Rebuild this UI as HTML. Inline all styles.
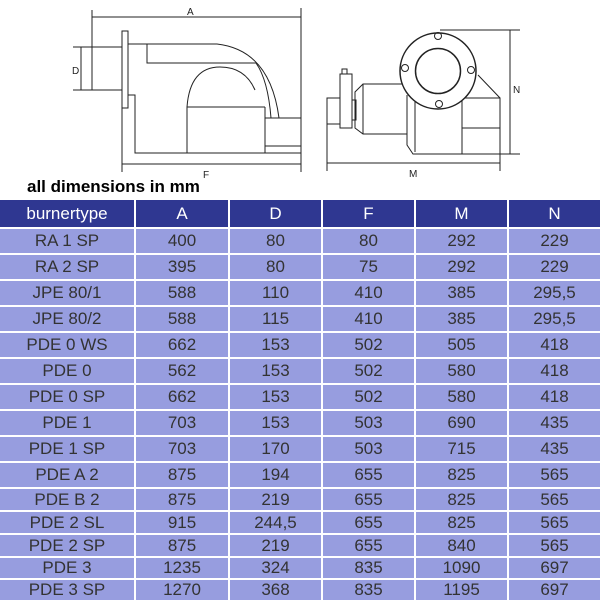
<!DOCTYPE html>
<html><head><meta charset="utf-8"><style>
html,body{margin:0;padding:0;background:#fff;width:600px;height:600px;overflow:hidden;position:relative;font-family:"Liberation Sans",Arial,sans-serif}
svg{position:absolute;left:0;top:0}
.t{position:absolute;left:27px;top:177px;font-weight:bold;font-size:17px;color:#000}
.r{position:absolute;left:0;width:600px;display:flex}
.r div{display:flex;align-items:center;justify-content:center;background:#979ddf;color:#333;font-size:17px;margin-left:2px;width:91px}
.r div:first-child{margin-left:0;width:134px}
.r div:nth-child(2){width:92px}
.h div{background:#2f3791;color:#fff}
</style></head><body>
<svg width="600" height="200" viewBox="0 0 600 200" fill="none" stroke="#222" stroke-width="1">
<g font-family="Liberation Sans,Arial,sans-serif" font-size="10" fill="#222" stroke="none">
<text x="187" y="15">A</text><text x="203" y="178">F</text><text x="72" y="74">D</text>
<text x="409" y="177">M</text><text x="513" y="93">N</text>
</g>
<line x1="92" y1="17" x2="301" y2="17"/>
<line x1="92" y1="10" x2="92" y2="47"/>
<line x1="301" y1="8" x2="301" y2="118"/>
<line x1="122" y1="164" x2="301" y2="164"/>
<line x1="122" y1="108" x2="122" y2="172"/>
<line x1="301" y1="153" x2="301" y2="172"/>
<line x1="81" y1="47" x2="81" y2="90"/>
<line x1="73" y1="47" x2="92" y2="47"/><line x1="73" y1="90" x2="92" y2="90"/>
<rect x="92" y="47" width="30" height="43"/>
<rect x="122" y="31" width="6" height="77"/>
<path d="M128 44 H217 Q270 50 279 118"/>
<path d="M147 44 V63 H256 Q268 80 271 118"/>
<path d="M128 95 H135 V153 H301"/>
<path d="M187 153 V107 Q190 67 220 67 Q245 67 255 90"/>
<line x1="187" y1="107" x2="265" y2="107"/>
<rect x="265" y="118" width="36" height="35"/>
<line x1="265" y1="146" x2="301" y2="146"/>
<line x1="265" y1="107" x2="265" y2="118"/>
<line x1="327" y1="163" x2="500" y2="163"/>
<line x1="327" y1="124" x2="327" y2="171"/>
<line x1="500" y1="154" x2="500" y2="171"/>
<line x1="510" y1="30" x2="510" y2="154"/>
<line x1="440" y1="30" x2="520" y2="30"/>
<line x1="500" y1="154" x2="520" y2="154"/>
<path d="M478 75 L500 98 V154 H413 L407 145 V95"/>
<line x1="415" y1="95" x2="415" y2="152"/>
<rect x="462" y="98" width="38" height="56"/>
<line x1="462" y1="128" x2="500" y2="128"/>
<path d="M407 84 H363 L355 92 V128 L363 134 H407"/>
<line x1="363" y1="84" x2="363" y2="134"/>
<rect x="340" y="74" width="12" height="54"/>
<rect x="342" y="69" width="5" height="5"/>
<rect x="327" y="98" width="13" height="26"/>
<rect x="352" y="100" width="4" height="20"/>
<circle cx="438" cy="71" r="38" fill="#fff" stroke-width="1.5"/>
<circle cx="438" cy="71" r="22.5" stroke-width="1.5"/>
<circle cx="438" cy="36" r="3.5"/><circle cx="405" cy="68" r="3.5"/>
<circle cx="471" cy="70" r="3.5"/><circle cx="439" cy="104" r="3.5"/>
</svg>
<div class="t">all dimensions in mm</div>
<div class="r h" style="top:200px;height:27px"><div>burnertype</div><div>A</div><div>D</div><div>F</div><div>M</div><div>N</div></div>
<div class="r" style="top:229px;height:24px"><div>RA 1 SP</div><div>400</div><div>80</div><div>80</div><div>292</div><div>229</div></div>
<div class="r" style="top:255px;height:24px"><div>RA 2 SP</div><div>395</div><div>80</div><div>75</div><div>292</div><div>229</div></div>
<div class="r" style="top:281px;height:24px"><div>JPE 80/1</div><div>588</div><div>110</div><div>410</div><div>385</div><div>295,5</div></div>
<div class="r" style="top:307px;height:24px"><div>JPE 80/2</div><div>588</div><div>115</div><div>410</div><div>385</div><div>295,5</div></div>
<div class="r" style="top:333px;height:24px"><div>PDE 0 WS</div><div>662</div><div>153</div><div>502</div><div>505</div><div>418</div></div>
<div class="r" style="top:359px;height:24px"><div>PDE 0</div><div>562</div><div>153</div><div>502</div><div>580</div><div>418</div></div>
<div class="r" style="top:385px;height:24px"><div>PDE 0 SP</div><div>662</div><div>153</div><div>502</div><div>580</div><div>418</div></div>
<div class="r" style="top:411px;height:24px"><div>PDE 1</div><div>703</div><div>153</div><div>503</div><div>690</div><div>435</div></div>
<div class="r" style="top:437px;height:24px"><div>PDE 1 SP</div><div>703</div><div>170</div><div>503</div><div>715</div><div>435</div></div>
<div class="r" style="top:463px;height:24px"><div>PDE A 2</div><div>875</div><div>194</div><div>655</div><div>825</div><div>565</div></div>
<div class="r" style="top:489px;height:21px"><div>PDE B 2</div><div>875</div><div>219</div><div>655</div><div>825</div><div>565</div></div>
<div class="r" style="top:512px;height:21px"><div>PDE 2 SL</div><div>915</div><div>244,5</div><div>655</div><div>825</div><div>565</div></div>
<div class="r" style="top:535px;height:21px"><div>PDE 2 SP</div><div>875</div><div>219</div><div>655</div><div>840</div><div>565</div></div>
<div class="r" style="top:558px;height:20px"><div>PDE 3</div><div>1235</div><div>324</div><div>835</div><div>1090</div><div>697</div></div>
<div class="r" style="top:580px;height:20px"><div>PDE 3 SP</div><div>1270</div><div>368</div><div>835</div><div>1195</div><div>697</div></div>
</body></html>
